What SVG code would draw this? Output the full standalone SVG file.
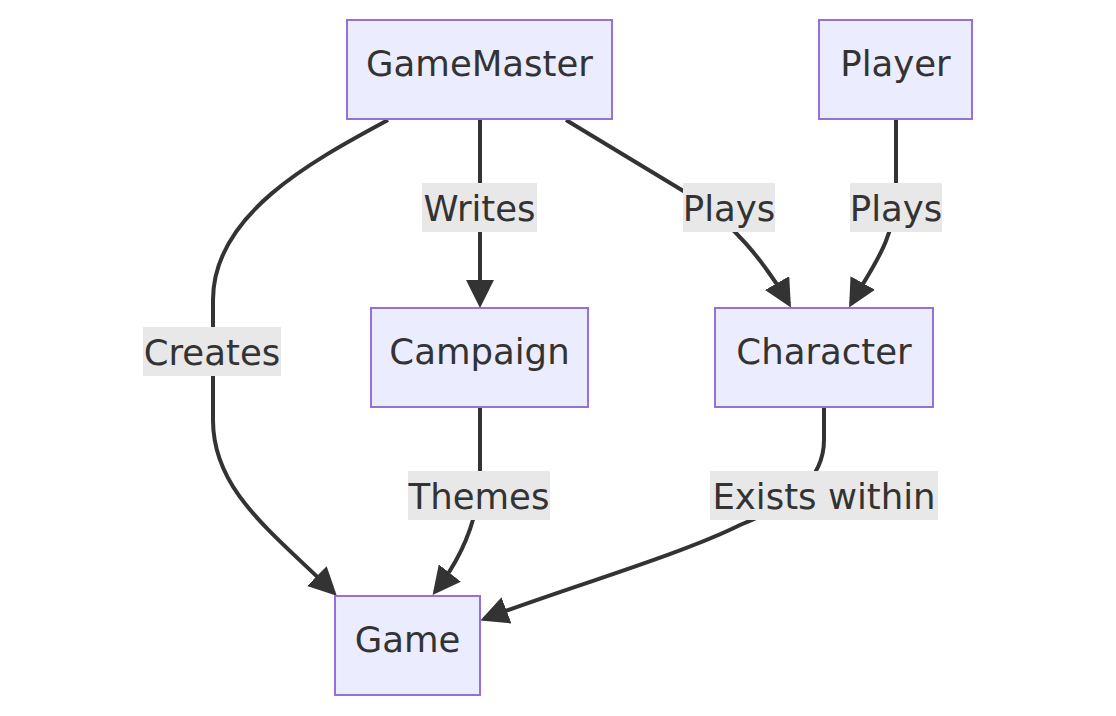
<svg xmlns="http://www.w3.org/2000/svg" width="1116" height="716" viewBox="0 0 1116 716">
<style>
.node rect{fill:#ECECFF;stroke:#9370DB;stroke-width:2}
.node text{font-family:"DejaVu Sans","Liberation Sans",sans-serif;font-size:35.5px;fill:#333;text-anchor:middle}
.edge{fill:none;stroke:#333;stroke-width:4}
.lbl rect{fill:#e8e8e8}
.lbl text{font-family:"DejaVu Sans","Liberation Sans",sans-serif;font-size:35.5px;fill:#333;text-anchor:middle}
</style>
<defs>
<marker id="arr" viewBox="0 0 10 10" refX="8.6" refY="5" markerUnits="userSpaceOnUse" markerWidth="28" markerHeight="28" orient="auto">
<path d="M0,0 L10,5 L0,10 z" fill="#333"/>
</marker>
</defs>
<rect width="1116" height="716" fill="#fff"/>
<g id="connectors">
<path class="edge" marker-end="url(#arr)" d="M480,119 L480,304"/>
<path class="edge" marker-end="url(#arr)" d="M566,120 L690,195 C730,220 765,262 789,304"/>
<path class="edge" marker-end="url(#arr)" d="M896,119 L896,190 C896,240 870,270 851,304"/>
<path class="edge" marker-end="url(#arr)" d="M388,120 C310,162 213,215 213,300 L213,420 C213,490 270,530 334,593"/>
<path class="edge" marker-end="url(#arr)" d="M480,408 L480,470 C480,520 460,560 435,592"/>
<path class="edge" marker-end="url(#arr)" d="M824,408 L824,440 C824,480 790,505 740,525 C680,555 560,590 484,619"/>
<g class="lbl"><rect x="422" y="183" width="115" height="49"/><text x="479.5" y="221">Writes</text></g>
<g class="lbl"><rect x="683" y="183" width="92" height="49"/><text x="729" y="221">Plays</text></g>
<g class="lbl"><rect x="850" y="183" width="92" height="49"/><text x="896" y="221">Plays</text></g>
<g class="lbl"><rect x="143" y="327" width="138" height="49"/><text x="212" y="365">Creates</text></g>
<g class="lbl"><rect x="408" y="471" width="142" height="49"/><text x="479" y="509">Themes</text></g>
<g class="lbl"><rect x="710" y="471" width="228" height="49"/><text x="824" y="509">Exists within</text></g>
</g>
<g id="GameMaster" class="node"><rect x="347" y="20" width="265" height="99"/><text x="479.5" y="76">GameMaster</text></g>
<g id="Player" class="node"><rect x="819" y="20" width="153" height="99"/><text x="895.5" y="76">Player</text></g>
<g id="Campaign" class="node"><rect x="371" y="308" width="217" height="99"/><text x="479.5" y="364">Campaign</text></g>
<g id="Character" class="node"><rect x="715" y="308" width="218" height="99"/><text x="824" y="364">Character</text></g>
<g id="Game" class="node"><rect x="335" y="596" width="145" height="99"/><text x="407.5" y="652">Game</text></g>
</svg>
